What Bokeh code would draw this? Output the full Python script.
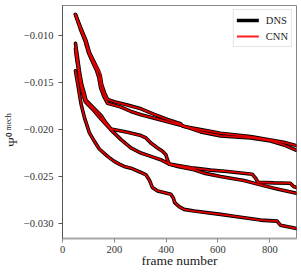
from bokeh.plotting import figure
from bokeh.models import Range1d, FixedTicker, Legend, LegendItem, LinearAxis
from bokeh.embed import file_html
from bokeh.resources import INLINE

# ---- data (frame number vs Psi^0_mech) ----
x_ticks = [0, 200, 400, 600, 800]
x_tick_labels = ["0", "200", "400", "600", "800"]
y_ticks = [-0.030, -0.025, -0.020, -0.015, -0.010]
y_tick_labels = ["\u22120.030", "\u22120.025", "\u22120.020", "\u22120.015", "\u22120.010"]

A_x = [50, 72, 91, 104, 123, 138, 146, 151, 162, 174, 200, 251, 303, 354, 405, 456, 464, 533, 610, 726, 803, 854, 903]
A_y = [-0.00775, -0.00929, -0.01054, -0.01179, -0.01286, -0.01368, -0.01429, -0.01518, -0.01607, -0.01679, -0.01704,
       -0.01739, -0.01779, -0.01839, -0.01893, -0.01939, -0.01964, -0.0200, -0.02039, -0.02075, -0.02111, -0.02136, -0.02171]

B_x = [50, 69, 87, 100, 117, 131, 140, 147, 159, 174, 226, 264, 303, 354, 405, 456, 533, 610, 726, 803, 854, 903]
B_y = [-0.00775, -0.00929, -0.01054, -0.01179, -0.01286, -0.01368, -0.01446, -0.01554, -0.01643, -0.01721, -0.01761,
       -0.01807, -0.01843, -0.01879, -0.01918, -0.01953, -0.02025, -0.02068, -0.02089, -0.02121, -0.02164, -0.02221]

C_x = [50, 56, 65, 74, 85, 91, 123, 149, 168, 187, 251, 303, 322, 341, 367, 386, 399, 405, 412, 508, 572, 636, 732, 745,
       754, 815, 879, 892, 903]
C_y = [-0.01082, -0.01196, -0.01375, -0.01518, -0.01625, -0.01689, -0.01779, -0.0185, -0.01929, -0.01993, -0.02029,
       -0.02064, -0.02089, -0.02143, -0.02196, -0.02232, -0.02268, -0.02321, -0.02368, -0.02411, -0.02432, -0.02446,
       -0.02475, -0.02518, -0.02561, -0.02568, -0.02571, -0.02607, -0.02618]

D_x = [50, 54, 62, 69, 79, 88, 117, 142, 162, 187, 226, 264, 303, 341, 379, 412, 444, 508, 546, 610, 700, 764, 828, 903]
D_y = [-0.01143, -0.01232, -0.01375, -0.01518, -0.01625, -0.01704, -0.01786, -0.01868, -0.01929, -0.02003, -0.02107,
       -0.02196, -0.0225, -0.02286, -0.02321, -0.02368, -0.02393, -0.02428, -0.02464, -0.025, -0.02543, -0.02589,
       -0.02632, -0.02679]

E_x = [50, 59, 72, 85, 104, 123, 142, 174, 200, 219, 238, 264, 303, 322, 335, 347, 367, 418, 428, 433, 450, 469, 508,
       610, 674, 764, 828, 841, 903]
E_y = [-0.01375, -0.01518, -0.01732, -0.01875, -0.02036, -0.02125, -0.02207, -0.02286, -0.02339, -0.02368, -0.02393,
       -0.02411, -0.02457, -0.02482, -0.02536, -0.02618, -0.02654, -0.02689, -0.02732, -0.02778, -0.02821, -0.0285,
       -0.02868, -0.02903, -0.02928, -0.02964, -0.02975, -0.03018, -0.03054]

# CNN predictions (practically on top of DNS; small deviation on the first curve)
cnn_A_y = [-0.00775, -0.00929, -0.01054, -0.01179, -0.01286, -0.01360, -0.01405, -0.01510, -0.01607, -0.01679, -0.01704,
           -0.01739, -0.01779, -0.01839, -0.01893, -0.01939, -0.01964, -0.0200, -0.02039, -0.02075, -0.02111, -0.02136, -0.02171]
cnn_B_y = list(B_y)
cnn_C_y = list(C_y)
cnn_D_y = list(D_y)
cnn_E_y = list(E_y)

dns_curves = [(A_x, A_y), (B_x, B_y), (C_x, C_y), (D_x, D_y), (E_x, E_y)]
cnn_curves = [(A_x, cnn_A_y), (B_x, cnn_B_y), (C_x, cnn_C_y), (D_x, cnn_D_y), (E_x, cnn_E_y)]

SERIF = "Liberation Serif"
TXT = "#222222"

p = figure(width=301, height=273, output_backend="svg", toolbar_location=None,
           x_range=Range1d(0, 903), y_range=Range1d(-0.0316, -0.00679),
           min_border_left=61, min_border_right=5, min_border_top=5, min_border_bottom=35)
p.background_fill_color = "white"
p.border_fill_color = "white"
p.outline_line_color = "#888888"
p.outline_line_width = 1
p.xgrid.visible = False
p.ygrid.visible = False

dns_r = []
for xs, ys in dns_curves:
    dns_r.append(p.line(xs, ys, line_color="black", line_width=3.6, line_join="round", line_cap="round"))
cnn_r = []
for xs, ys in cnn_curves:
    cnn_r.append(p.line(xs, ys, line_color="#ff0000", line_alpha=0.88, line_width=1.8, line_join="round", line_cap="round"))

legend = Legend(items=[LegendItem(label="DNS", renderers=[dns_r[0]]),
                       LegendItem(label="CNN", renderers=[cnn_r[0]])],
                location="top_right")
legend.label_text_font = SERIF
legend.label_text_font_size = "10.5px"
legend.label_text_color = TXT
legend.glyph_width = 22
legend.glyph_height = 14
legend.label_height = 14
legend.label_standoff = 7
legend.spacing = 2
legend.padding = 3
legend.margin = 4
legend.border_line_color = "#cccccc"
legend.border_line_width = 1
legend.background_fill_alpha = 0.8
p.add_layout(legend)

# ---- x axis ----
xa = p.xaxis[0]
xa.ticker = FixedTicker(ticks=x_ticks)
xa.major_label_overrides = dict(zip(x_ticks, x_tick_labels))
xa.minor_tick_line_color = None
xa.major_tick_out = 4
xa.major_tick_in = 0
xa.major_label_standoff = 3
xa.major_label_text_font = SERIF
xa.major_label_text_font_size = "10.5px"
xa.major_label_text_color = "#333333"
xa.axis_line_color = "#a6a6a6"
xa.axis_line_width = 2
xa.major_tick_line_color = "#888888"
xa.axis_label = "frame number"
xa.axis_label_text_font = SERIF
xa.axis_label_text_font_size = "13.5px"
xa.axis_label_text_font_style = "normal"
xa.axis_label_text_color = TXT
xa.axis_label_standoff = -3

# ---- y axis (inner label: subscript "mech") ----
ya = p.yaxis[0]
ya.ticker = FixedTicker(ticks=y_ticks)
ya.major_label_overrides = dict(zip(y_ticks, y_tick_labels))
ya.minor_tick_line_color = None
ya.major_tick_out = 4
ya.major_tick_in = 0
ya.major_label_standoff = 5
ya.major_label_text_font = SERIF
ya.major_label_text_font_size = "10.5px"
ya.major_label_text_color = "#333333"
ya.axis_line_color = "#555555"
ya.axis_line_width = 1
ya.major_tick_line_color = "#555555"
ya.axis_label = "mech"
ya.axis_label_text_font = SERIF
ya.axis_label_text_font_size = "8px"
ya.axis_label_text_font_style = "normal"
ya.axis_label_text_color = TXT
ya.axis_label_standoff = 8

# ---- outer label axis carrying the symbol Psi with superscript 0 ----
psi_axis = LinearAxis(ticker=FixedTicker(ticks=[]), axis_line_color=None,
                      major_tick_line_color=None, minor_tick_line_color=None,
                      major_tick_out=0, major_tick_in=0, major_label_standoff=0,
                      major_label_text_font_size="0px")
psi_axis.axis_label = "\u03a8\u2070\u2003\u2003\u2005\u2005\u2009"
psi_axis.axis_label_text_font = SERIF
psi_axis.axis_label_text_font_size = "13px"
psi_axis.axis_label_text_font_style = "normal"
psi_axis.axis_label_text_color = TXT
psi_axis.axis_label_standoff = -19
p.add_layout(psi_axis, "left")

open("out.html", "w").write(file_html(p, INLINE))
